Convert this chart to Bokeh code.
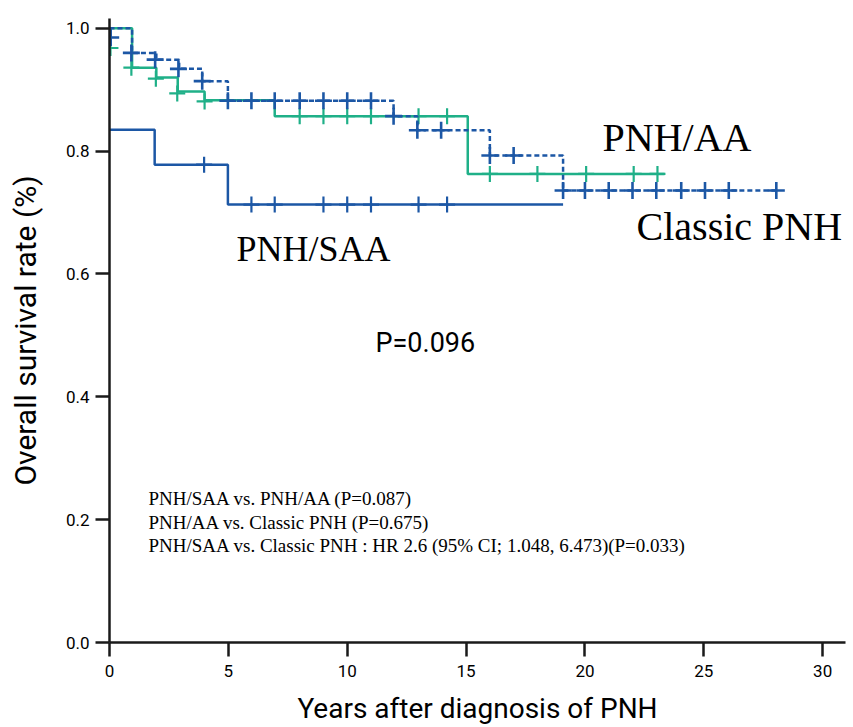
from bokeh.plotting import figure
from bokeh.models import Range1d, FixedTicker, NumeralTickFormatter
from bokeh.core.properties import value
from bokeh.embed import file_html
from bokeh.resources import INLINE

# ---- data ----
# Classic PNH (blue, dashed)
classic_t = [0, 0.95, 1.97, 2.93, 3.9, 4.98, 11.95, 12.95, 16.0, 19.08, 28.05]
classic_s = [1.0, 0.960, 0.949, 0.934, 0.914, 0.882, 0.857, 0.834, 0.793, 0.736, 0.736]
classic_cens_t = [0.05, 0.92, 1.92, 2.9, 3.9, 4.98, 5.97, 6.95, 8.0, 9.0, 10.0, 11.0,
                  11.95, 12.95, 13.95, 16.0, 17.0, 19.08, 20.0, 21.0, 22.0, 23.0, 24.05,
                  25.05, 26.05, 28.05]
classic_cens_s = [0.985, 0.960, 0.949, 0.934, 0.914, 0.882, 0.882, 0.882, 0.882, 0.882,
                  0.882, 0.882, 0.857, 0.834, 0.834, 0.793, 0.793, 0.736, 0.736, 0.736,
                  0.736, 0.736, 0.736, 0.736, 0.736, 0.736]

# PNH/AA (green, solid)
aa_t = [0, 0.95, 1.97, 2.87, 4.0, 6.95, 15.07, 23.35]
aa_s = [1.0, 0.936, 0.920, 0.897, 0.883, 0.857, 0.763, 0.763]
aa_cens_t = [0.04, 0.92, 1.95, 2.85, 4.0, 8.0, 9.0, 10.0, 11.0, 13.0, 14.2,
             16.0, 18.0, 20.05, 22.05, 23.05]
aa_cens_s = [0.968, 0.936, 0.918, 0.894, 0.881, 0.857, 0.857, 0.857, 0.857, 0.857, 0.857,
             0.763, 0.763, 0.763, 0.763, 0.763]

# PNH/SAA (blue, solid)
saa_t = [0, 1.9, 4.98, 19.08]
saa_s = [0.835, 0.778, 0.713, 0.713]
saa_cens_t = [3.98, 5.97, 6.95, 9.0, 10.0, 11.0, 13.0, 14.2]
saa_cens_s = [0.778, 0.713, 0.713, 0.713, 0.713, 0.713, 0.713, 0.713]

x_ticks = [0, 5, 10, 15, 20, 25, 30]
y_ticks = [0.0, 0.2, 0.4, 0.6, 0.8, 1.0]

annotation_lines = [
    "PNH/SAA vs. PNH/AA (P=0.087)",
    "PNH/AA vs. Classic PNH (P=0.675)",
    "PNH/SAA vs. Classic PNH : HR 2.6 (95% CI; 1.048, 6.473)(P=0.033)",
]

BLUE = "#1c57a5"
GREEN = "#1fb088"

p = figure(width=853, height=727, output_backend="svg", toolbar_location=None,
           x_range=Range1d(0, 30.96), y_range=Range1d(0, 1.016),
           min_border_left=109, min_border_right=8, min_border_top=18,
           min_border_bottom=85)
p.outline_line_color = None
p.grid.visible = False
p.background_fill_color = "white"

# curves
p.step(aa_t, aa_s, mode="after", line_color=GREEN, line_width=2.5)
p.cross(aa_cens_t, aa_cens_s, size=16, line_color=GREEN, line_width=2.2)
p.step(classic_t, classic_s, mode="after", line_color=BLUE, line_width=2.5,
       line_dash="5 3")
p.cross(classic_cens_t, classic_cens_s, size=17, line_color=BLUE, line_width=2.6)
p.step(saa_t, saa_s, mode="after", line_color=BLUE, line_width=2.5)
p.cross(saa_cens_t, saa_cens_s, size=16, line_color=BLUE, line_width=2.2)

# labels
serif = value("Liberation Serif")
p.text(x=[20.74], y=[0.822], text=["PNH/AA"], text_font=serif, text_font_size="40px",
       text_color="black", text_baseline="alphabetic", text_align="left")
p.text(x=[22.17], y=[0.678], text=["Classic PNH"], text_font=serif, text_font_size="40px",
       text_color="black", text_baseline="alphabetic", text_align="left")
p.text(x=[5.34], y=[0.640], text=["PNH/SAA"], text_font=serif, text_font_size="36px",
       text_color="black", text_baseline="alphabetic", text_align="left")
p.text(x=[11.19], y=[0.487], text=["P=0.096"], text_font=value("Roboto"),
       text_font_size="27px", text_color="black", text_baseline="alphabetic",
       text_align="left")
p.text(x=[1.64, 1.64, 1.64], y=[0.234, 0.195, 0.158], text=annotation_lines,
       text_font=serif, text_font_size="19px", text_color="black",
       text_baseline="alphabetic", text_align="left")

# axes
for ax in (p.xaxis[0], p.yaxis[0]):
    ax.axis_line_width = 2.5
    ax.axis_line_color = "#1a1a1a"
    ax.major_tick_line_width = 2.5
    ax.major_tick_line_color = "#1a1a1a"
    ax.major_tick_out = 14
    ax.major_tick_in = 0
    ax.minor_tick_line_color = None
    ax.major_label_text_font = "Roboto"
    ax.major_label_text_font_size = "17px"
    ax.major_label_text_color = "black"
    ax.axis_label_text_font = "Roboto"
    ax.axis_label_text_font_style = "normal"
    ax.axis_label_text_color = "black"

p.xaxis.ticker = FixedTicker(ticks=x_ticks)
p.yaxis.ticker = FixedTicker(ticks=y_ticks)
p.yaxis.formatter = NumeralTickFormatter(format="0.0")
p.yaxis.axis_label = "Overall survival rate (%)"
p.yaxis.axis_label_text_font_size = "30px"
p.xaxis.axis_label = "Years after diagnosis of PNH"
p.xaxis.axis_label_text_font_size = "28px"
p.xaxis.major_label_standoff = 8
p.yaxis.major_label_standoff = 6
p.xaxis.axis_label_standoff = 12
p.yaxis.axis_label_standoff = 20

open("out.html", "w").write(file_html(p, INLINE))
